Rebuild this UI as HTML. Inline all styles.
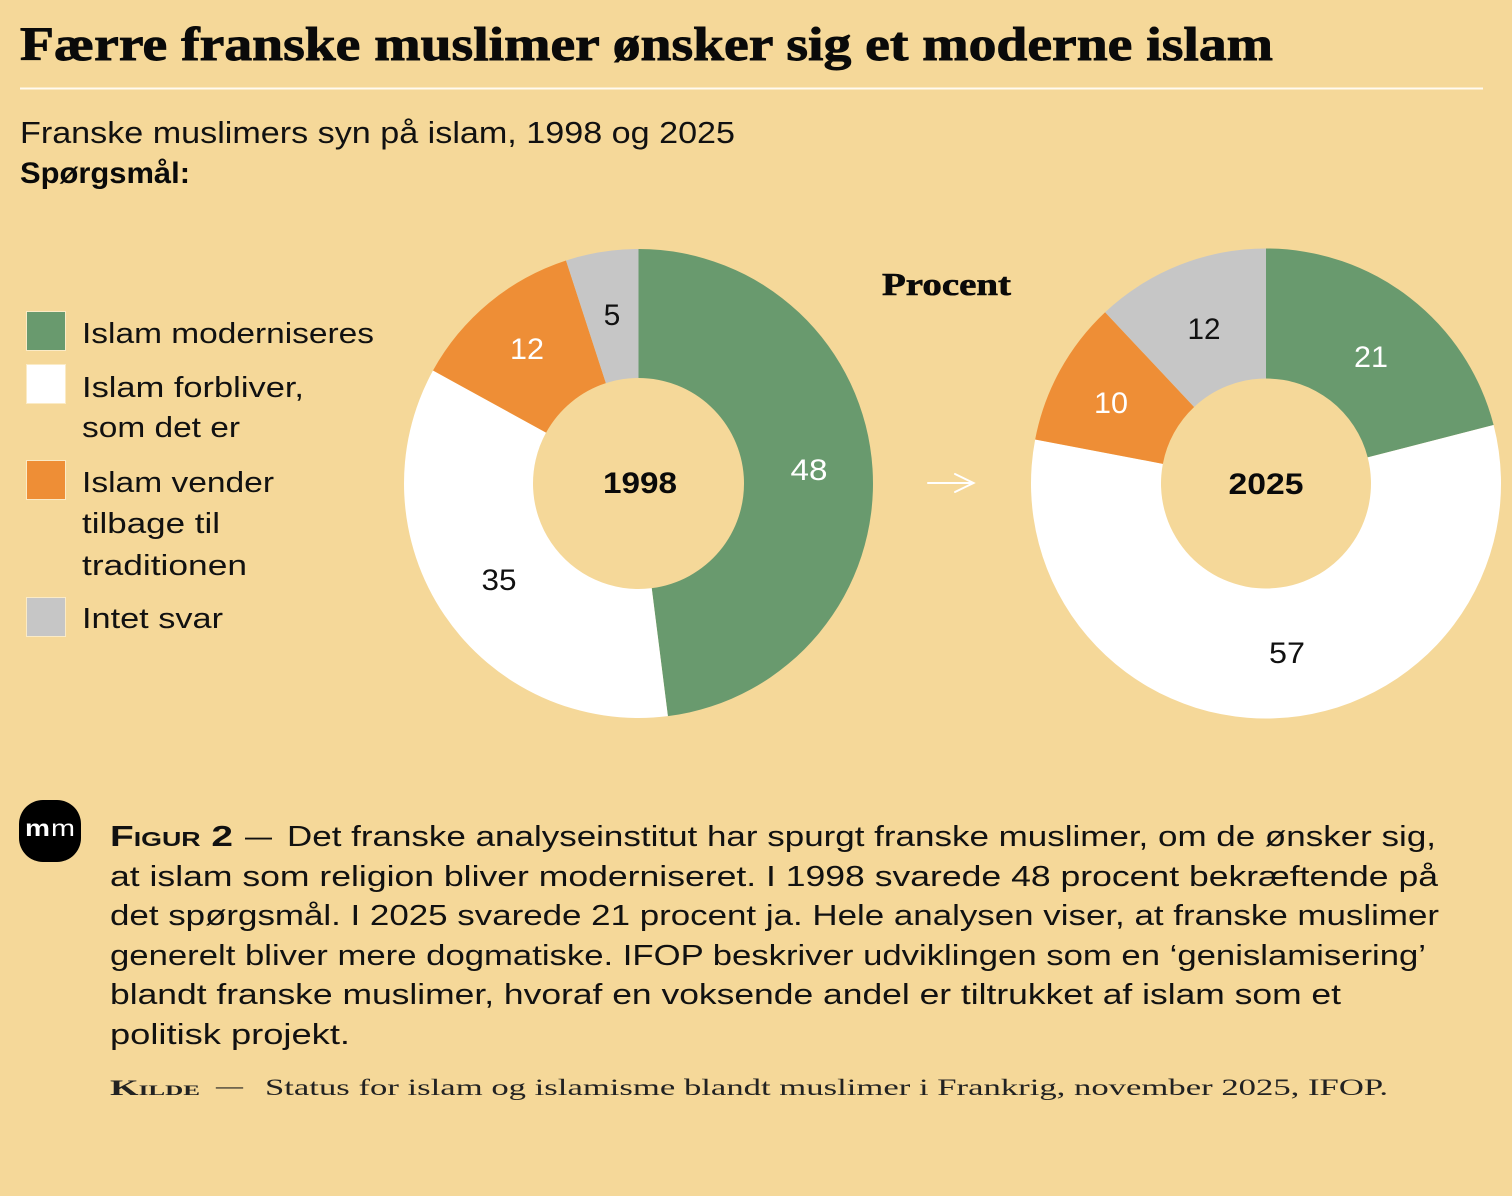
<!DOCTYPE html>
<html>
<head>
<meta charset="utf-8">
<style>
html,body{margin:0;padding:0;background:#F5D899;}
svg{display:block;}
</style>
</head>
<body>
<svg width="1512" height="1196" viewBox="0 0 1512 1196" xmlns="http://www.w3.org/2000/svg">
<rect x="0" y="0" width="1512" height="1196" fill="#F5D899"/>

<!-- Title -->
<text x="20" y="60" font-family="'Liberation Serif', serif" font-weight="bold" font-size="48" fill="#0a0a0a" stroke="#0a0a0a" stroke-width="0.9" textLength="1253" lengthAdjust="spacingAndGlyphs">Færre franske muslimer ønsker sig et moderne islam</text>
<rect x="20" y="87.5" width="1463" height="2" fill="#FFFAF0"/>

<!-- Subtitle -->
<text x="20" y="143" font-family="'Liberation Sans', sans-serif" font-size="31" fill="#111" textLength="715" lengthAdjust="spacingAndGlyphs">Franske muslimers syn på islam, 1998 og 2025</text>
<text x="20" y="183" font-family="'Liberation Sans', sans-serif" font-weight="bold" font-size="30" fill="#0a0a0a" textLength="170" lengthAdjust="spacingAndGlyphs">Spørgsmål:</text>

<!-- Legend -->
<g font-family="'Liberation Sans', sans-serif" font-size="29" fill="#111">
<rect x="26.5" y="311.5" width="39" height="39" fill="#699A6E" stroke="#FBEBC6" stroke-width="1"/>
<text x="82" y="343" textLength="292" lengthAdjust="spacingAndGlyphs">Islam moderniseres</text>
<rect x="26.5" y="364.5" width="39" height="39" fill="#FFFFFF" stroke="#FBEBC6" stroke-width="1"/>
<text x="82" y="397" textLength="222" lengthAdjust="spacingAndGlyphs">Islam forbliver,</text>
<text x="82" y="437" textLength="158" lengthAdjust="spacingAndGlyphs">som det er</text>
<rect x="26.5" y="460.5" width="39" height="39" fill="#EE8E36" stroke="#FBEBC6" stroke-width="1"/>
<text x="82" y="492" textLength="192" lengthAdjust="spacingAndGlyphs">Islam vender</text>
<text x="82" y="533" textLength="138" lengthAdjust="spacingAndGlyphs">tilbage til</text>
<text x="82" y="575" textLength="165" lengthAdjust="spacingAndGlyphs">traditionen</text>
<rect x="26.5" y="597.5" width="39" height="39" fill="#C6C6C6" stroke="#FBEBC6" stroke-width="1"/>
<text x="82" y="628" textLength="141" lengthAdjust="spacingAndGlyphs">Intet svar</text>
</g>

<!-- Donut 1998 -->
<path d="M638.5,249 A234.5,234.5 0 0 1 667.89,716.15 L651.72,588.17 A105.5,105.5 0 0 0 638.5,378 Z" fill="#699A6E"/>
<path d="M667.89,716.15 A234.5,234.5 0 0 1 433.01,370.53 L546.05,432.68 A105.5,105.5 0 0 0 651.72,588.17 Z" fill="#FFFFFF"/>
<path d="M433.01,370.53 A234.5,234.5 0 0 1 566.03,260.48 L605.90,383.16 A105.5,105.5 0 0 0 546.05,432.68 Z" fill="#EE8E36"/>
<path d="M566.03,260.48 A234.5,234.5 0 0 1 638.5,249 L638.5,378 A105.5,105.5 0 0 0 605.90,383.16 Z" fill="#C6C6C6"/>

<g font-family="'Liberation Sans', sans-serif" font-size="30" text-anchor="middle">
<text x="612" y="325" fill="#111">5</text>
<text x="527" y="359" fill="#fff" textLength="34" lengthAdjust="spacingAndGlyphs">12</text>
<text x="809" y="480" fill="#fff" textLength="37" lengthAdjust="spacingAndGlyphs">48</text>
<text x="499" y="590" fill="#111" textLength="35" lengthAdjust="spacingAndGlyphs">35</text>
<text x="640" y="493" fill="#0a0a0a" font-weight="bold" textLength="74" lengthAdjust="spacingAndGlyphs">1998</text>
</g>

<!-- Procent + arrow -->
<text x="882" y="295" font-family="'Liberation Serif', serif" font-weight="bold" font-size="32" fill="#0a0a0a" stroke="#0a0a0a" stroke-width="0.6" textLength="129" lengthAdjust="spacingAndGlyphs">Procent</text>
<g stroke="#FFFFFF" stroke-width="2" fill="none" stroke-linecap="round">
<line x1="928" y1="483" x2="973" y2="483"/>
<polyline points="955,474 973.5,483 955,492"/>
</g>

<!-- Donut 2025 -->
<path d="M1266,248.5 A235,235 0 0 1 1493.62,425.06 L1367.70,457.39 A105,105 0 0 0 1266,378.5 Z" fill="#699A6E"/>
<path d="M1493.62,425.06 A235,235 0 1 1 1035.16,439.47 L1162.86,463.83 A105,105 0 1 0 1367.70,457.39 Z" fill="#FFFFFF"/>
<path d="M1035.16,439.47 A235,235 0 0 1 1105.13,312.19 L1194.12,406.96 A105,105 0 0 0 1162.86,463.83 Z" fill="#EE8E36"/>
<path d="M1105.13,312.19 A235,235 0 0 1 1266,248.5 L1266,378.5 A105,105 0 0 0 1194.12,406.96 Z" fill="#C6C6C6"/>

<g font-family="'Liberation Sans', sans-serif" font-size="30" text-anchor="middle">
<text x="1204" y="339" fill="#111" textLength="33" lengthAdjust="spacingAndGlyphs">12</text>
<text x="1371" y="367" fill="#fff" textLength="34" lengthAdjust="spacingAndGlyphs">21</text>
<text x="1111" y="413" fill="#fff" textLength="34" lengthAdjust="spacingAndGlyphs">10</text>
<text x="1287" y="663" fill="#111" textLength="36" lengthAdjust="spacingAndGlyphs">57</text>
<text x="1266" y="494" fill="#0a0a0a" font-weight="bold" textLength="75" lengthAdjust="spacingAndGlyphs">2025</text>
</g>

<!-- Logo -->
<rect x="19" y="800" width="62" height="62" rx="24" ry="24" fill="#000"/>
<text x="25" y="836" font-family="'Liberation Sans', sans-serif" font-weight="bold" font-size="23" fill="#fff" textLength="25" lengthAdjust="spacingAndGlyphs">m</text>
<text x="51" y="836" font-family="'Liberation Sans', sans-serif" font-size="23" fill="#fff" textLength="24" lengthAdjust="spacingAndGlyphs">m</text>

<!-- Caption -->
<g font-family="'Liberation Sans', sans-serif" font-size="29" fill="#111">
<text x="110" y="846" font-weight="bold" style="font-variant:small-caps" textLength="123" lengthAdjust="spacingAndGlyphs">Figur 2</text>
<text x="245" y="846" textLength="27" lengthAdjust="spacingAndGlyphs">—</text>
<text x="287" y="846" textLength="1149" lengthAdjust="spacingAndGlyphs">Det franske analyseinstitut har spurgt franske muslimer, om de ønsker sig,</text>
<text x="110" y="886" textLength="1328" lengthAdjust="spacingAndGlyphs">at islam som religion bliver moderniseret. I 1998 svarede 48 procent bekræftende på</text>
<text x="110" y="925" textLength="1329" lengthAdjust="spacingAndGlyphs">det spørgsmål. I 2025 svarede 21 procent ja. Hele analysen viser, at franske muslimer</text>
<text x="110" y="965" textLength="1316" lengthAdjust="spacingAndGlyphs">generelt bliver mere dogmatiske. IFOP beskriver udviklingen som en ‘genislamisering’</text>
<text x="110" y="1004" textLength="1231" lengthAdjust="spacingAndGlyphs">blandt franske muslimer, hvoraf en voksende andel er tiltrukket af islam som et</text>
<text x="110" y="1044" textLength="240" lengthAdjust="spacingAndGlyphs">politisk projekt.</text>
</g>

<!-- Source -->
<g font-family="'Liberation Serif', serif" fill="#222">
<text x="110" y="1095" font-size="22" font-weight="bold" style="font-variant:small-caps" textLength="90" lengthAdjust="spacingAndGlyphs">Kilde</text>
<text x="216" y="1093" font-size="22" textLength="27" lengthAdjust="spacingAndGlyphs">—</text>
<text x="265" y="1095" font-size="23" textLength="1123" lengthAdjust="spacingAndGlyphs">Status for islam og islamisme blandt muslimer i Frankrig, november 2025, IFOP.</text>
</g>
</svg>
</body>
</html>
